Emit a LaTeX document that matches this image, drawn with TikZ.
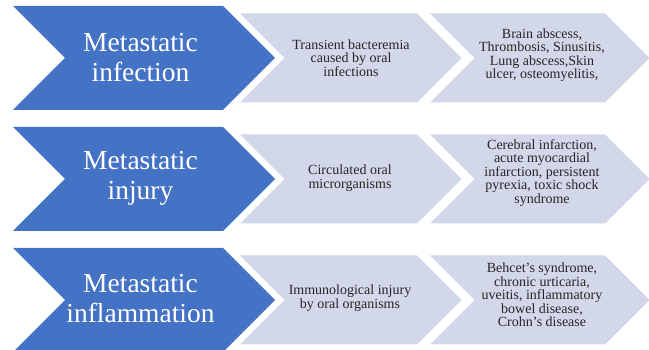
\documentclass[tikz,border=0pt]{standalone}
\usepackage{fontspec}
\setmainfont{Liberation Serif}
\definecolor{chevblue}{HTML}{4472C4}
\definecolor{chevgray}{HTML}{D3D7EA}
\newcommand{\chevron}[5]{% #1 style, #2 left x, #3 centre y, #4 width to corner, #5 half height
  \fill[#1] (#2,#3-#5) -- (#2+#4,#3-#5) -- (#2+#4+#5,#3) -- (#2+#4,#3+#5)
    -- (#2,#3+#5) -- (#2+#5,#3) -- cycle;}
\tikzset{
  bluechev/.style={fill=chevblue},
  graychev/.style={fill=chevgray},
  bigtext/.style={text=white, align=center, inner sep=0pt,
    font=\fontsize{27.5}{30}\selectfont},
  smalltext/.style={text=black!85, align=center, inner sep=0pt,
    font=\fontsize{14}{13.5}\selectfont},
}
\begin{document}
\begin{tikzpicture}[x=1pt,y=-1pt]
\useasboundingbox (0,0) rectangle (649,350);
% row 1
\chevron{bluechev}{13}{58}{210}{52}
\chevron{graychev}{240}{58}{177}{44.5}
\chevron{graychev}{430}{58}{175}{44.5}
\node[bigtext] (b1) at (140.5,58) {Metastatic\\infection};
\node[smalltext] (g11) at (351,58) {Transient bacteremia\\caused by oral\\infections};
\node[smalltext] (g12) at (542,55) {Brain abscess,\\Thrombosis, Sinusitis,\\Lung abscess,Skin\\ulcer, osteomyelitis,};
% row 2
\chevron{bluechev}{13}{179}{210}{52}
\chevron{graychev}{240}{179}{177}{44.5}
\chevron{graychev}{430}{179}{175}{44.5}
\node[bigtext] (b2) at (140.5,178) {Metastatic\\injury};
\node[smalltext] (g21) at (350,178) {Circulated oral\\microrganisms};
\node[smalltext] (g22) at (542,173) {Cerebral infarction,\\acute myocardial\\infarction, persistent\\pyrexia, toxic shock\\syndrome};
% row 3
\chevron{bluechev}{13}{300}{210}{52}
\chevron{graychev}{240}{300}{177}{44.5}
\chevron{graychev}{430}{300}{175}{44.5}
\node[bigtext] (b3) at (140.5,299) {Metastatic\\inflammation};
\node[smalltext] (g31) at (350,298) {Immunological injury\\by oral organisms};
\node[smalltext] (g32) at (542,295) {Behcet’s syndrome,\\chronic urticaria,\\uveitis, inflammatory\\bowel disease,\\Crohn’s disease};
\end{tikzpicture}
\end{document}
